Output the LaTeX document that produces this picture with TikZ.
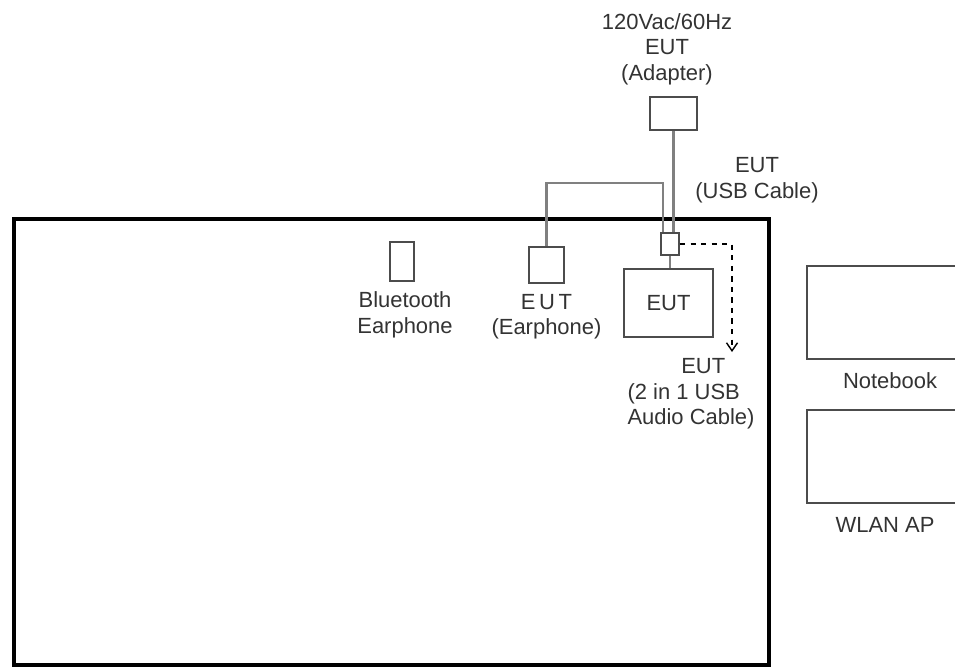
\documentclass[tikz,border=0pt]{standalone}
\usepackage{fontspec}
\setmainfont{Liberation Sans}
\usetikzlibrary{positioning,calc,arrows.meta}

\begin{document}
\begin{tikzpicture}[
    x=0.02cm, y=-0.02cm,
    every node/.style={font=\fontsize{12.5}{14.5}\selectfont, text=black!80},
    dev/.style={rectangle, draw=black!70, line width=1.1pt, inner sep=0pt},
    cable/.style={draw=black!50, line width=1.2pt},
    audio/.style={draw=black, thick, dashed, -{Straight Barb[length=1.6mm, width=2.2mm]}},
    frame/.style={draw=black, line width=2.3pt},
    label/.style={align=center, inner sep=1pt}
]
\useasboundingbox (0,0) rectangle (955,669);

% Test table
\draw[frame] (14,219) rectangle (769,665);

% Main components
\node[dev, minimum width=0.94cm, minimum height=0.66cm] (adapter) at (673.5,113.5) {};
\node[dev, minimum width=0.36cm, minimum height=0.44cm] (conn) at (670,244) {};
\node[dev, minimum width=1.78cm, minimum height=1.36cm] (eut) at (668.5,303) {EUT};
\node[dev, minimum width=0.70cm, minimum height=0.72cm] (ear) at (546.5,265) {};
\node[dev, minimum width=0.48cm, minimum height=0.78cm] (bt) at (402,261.5) {};
\node[dev, minimum width=3.26cm, minimum height=1.86cm] (notebook) at (888.5,312.5) {};
\node[dev, minimum width=3.26cm, minimum height=1.86cm] (ap) at (888.5,456.5) {};

% Labels
\node[label, above=0.18cm of adapter, xshift=-0.13cm] (adapterlbl) {120Vac/60Hz\\EUT\\(Adapter)};
\node[label] (usblbl) at (757,180) {EUT\\(USB Cable)};
\node[label, below=0.16cm of ear] (earlbl) {E\,U\,T\\(Earphone)};
\node[label, below=0.16cm of bt, xshift=0.06cm] (btlbl) {Bluetooth\\Earphone};
\node[label, below=0.22cm of notebook, xshift=0.03cm] (nblbl) {Notebook};
\node[label, below=0.22cm of ap, xshift=-0.07cm] (aplbl) {WLAN AP};

% Cables
\coordinate (cabletop) at (0,183);
\coordinate (audioend) at (732,352);
\draw[cable] (adapter.south) -- (adapter.south |- conn.north);
\draw[cable] (ear.north) -- (ear.north |- cabletop) -| ([xshift=-0.14cm]conn.north);
\draw[cable] (conn.south) -- (conn.south |- eut.north);
\draw[audio] (conn.east) -| (audioend);
\node[label, align=left] (audiolbl) at (691,394) {\hspace*{2.45em}EUT\\(2 in 1 USB\\Audio Cable)};

\end{tikzpicture}
\end{document}
